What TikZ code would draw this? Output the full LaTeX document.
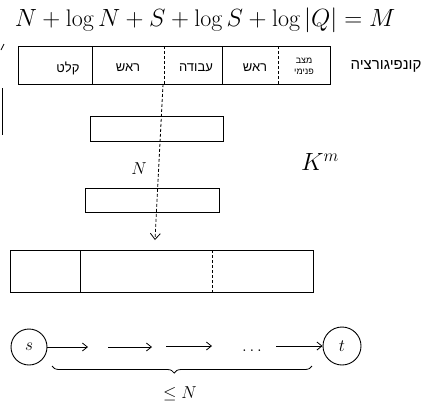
\documentclass[tikz,border=0pt]{standalone}
\usepackage{fontspec}
\usetikzlibrary{arrows.meta,decorations.pathreplacing}
\newfontfamily\hebfont[Script=Hebrew]{Liberation Sans}
\TeXXeTstate=1
\begin{document}
\begin{tikzpicture}[x=1pt,y=-1pt,
  pen/.style={line width=0.8pt,black},
  dpen/.style={line width=0.8pt,black,densely dashed},
  heb/.style={font=\hebfont\fontsize{13}{15}\selectfont},
  barb/.style={-{Straight Barb[length=5pt,width=8pt]}},
  ring/.style={draw,circle,line width=0.9pt,inner sep=0pt}]
\useasboundingbox (0,0) rectangle (438,408);
% formula
\node (formula) at (205,20) {\fontsize{24}{28}\selectfont $N+\log N+S+\log S+\log|Q|=M$};
% configuration box
\draw[pen] (18,46) rectangle (330,84);
\coordinate (c1) at (92,46); \coordinate (c1b) at (92,84);
\coordinate (c2) at (164,46); \coordinate (c2b) at (164,84);
\coordinate (c3) at (222,46); \coordinate (c3b) at (222,84);
\coordinate (c4) at (278,46); \coordinate (c4b) at (278,84);
\draw[pen] (c1) -- (c1b);
\draw[dpen] (c2) -- (c2b);
\draw[pen] (c3) -- (c3b);
\draw[dpen] (c4) -- (c4b);
\node[heb] (t1) at (68,68) {\beginR קלט\endR};
\node[heb] (t2) at (128,68) {\beginR ראש\endR};
\node[heb] (t3) at (196,68) {\beginR עבודה\endR};
\node[heb] (t4) at (255,68) {\beginR ראש\endR};
\node[font=\hebfont\fontsize{9}{11}\selectfont,align=center] (t5) at (304,66) {\beginR מצב\endR\\\beginR פנימי\endR};
\node[font=\hebfont\fontsize{15}{17}\selectfont] (conf) at (386,66) {\beginR קונפיגורציה\endR};
% left edge marks
\draw[pen] (2,88) -- (2,135);
\draw[pen] (1,50) -- (4,44);
% middle boxes
\node[draw,pen,minimum width=133pt,minimum height=25pt,inner sep=0pt] (boxA) at (157,129) {};
\node[draw,pen,minimum width=134pt,minimum height=24pt,inner sep=0pt] (boxB) at (152,200) {};
\node (Nlab) at (139,169) {\fontsize{17}{20}\selectfont $N$};
\node (Km) at (320,162) {\fontsize{24}{28}\selectfont $K^{m}$};
% dashed vertical line with arrow
\coordinate (vtop) at (163,84);
\coordinate (vend) at (155,240);
\draw[dpen,-{Straight Barb[length=6pt,width=10pt]}] (vtop) -- (vend);
% big box
\draw[pen] (10,250) rectangle (313,292);
\coordinate (d1) at (80,250); \coordinate (d1b) at (80,292);
\coordinate (d2) at (212,250); \coordinate (d2b) at (212,292);
\draw[pen] (d1) -- (d1b);
\draw[dpen] (d2) -- (d2b);
% path s -> t
\node[ring,minimum size=36pt] (s) at (29,347) {\fontsize{17}{20}\selectfont $s$};
\node[ring,minimum size=38pt] (t) at (342,346) {\fontsize{17}{20}\selectfont $t$};
\coordinate (a1) at (88,347);
\coordinate (b0) at (108,347); \coordinate (b1) at (152,347);
\coordinate (e0) at (166,346); \coordinate (e1) at (212,346);
\coordinate (f0) at (276,346);
\draw[pen,barb] (s) -- (a1);
\draw[pen,barb] (b0) -- (b1);
\draw[pen,barb] (e0) -- (e1);
\node (dots) at (252,351) {\fontsize{17}{20}\selectfont $.\,.\,.$};
\draw[pen,barb] (f0) -- (t);
\coordinate (br0) at (52,366); \coordinate (br1) at (312,366);
\draw[pen,decorate,decoration={brace,mirror,amplitude=7pt,aspect=0.47}] (br0) -- (br1);
\node (leN) at (180,394) {\fontsize{17}{20}\selectfont $\leq N$};
\end{tikzpicture}
\end{document}
